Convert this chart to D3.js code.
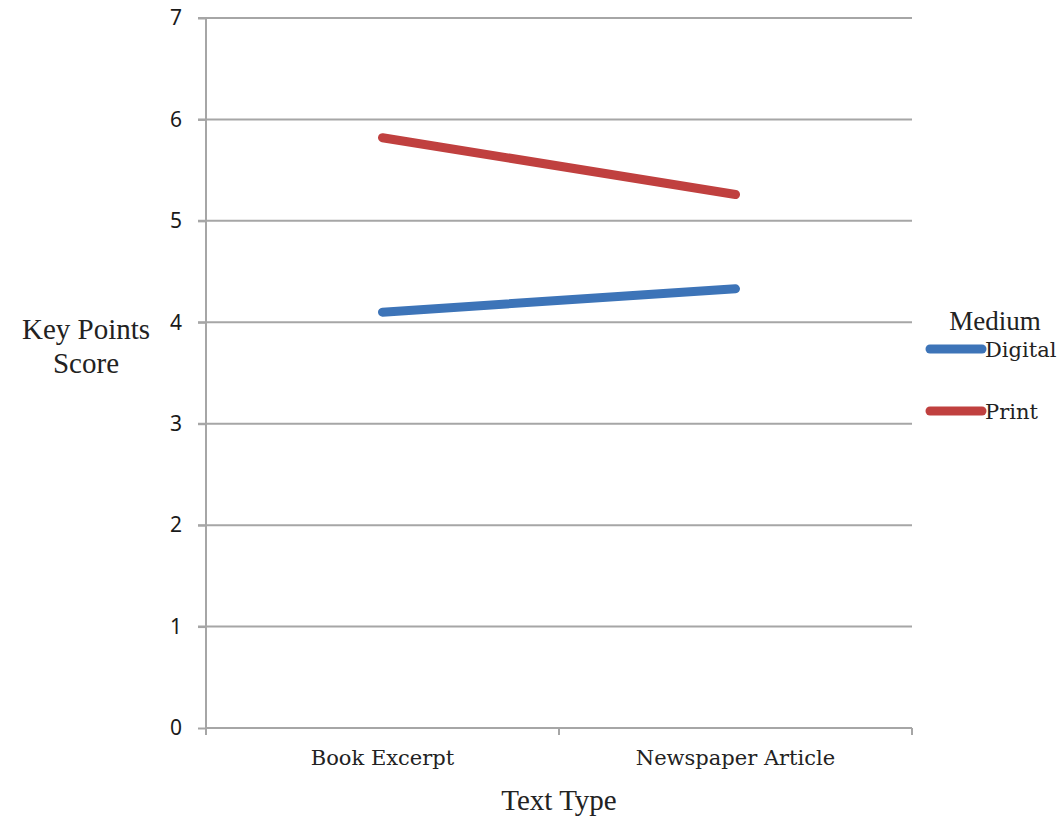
<!DOCTYPE html>
<html>
<head>
<meta charset="utf-8">
<script src="https://cdnjs.cloudflare.com/ajax/libs/d3/7.8.5/d3.min.js"></script>
<style>
  body { margin: 0; background: #fff; }
</style>
</head>
<body>
<script>
var categories = ["Book Excerpt", "Newspaper Article"];
var seriesNames = ["Digital", "Print"];
var digitalValues = [4.10, 4.33];
var printValues = [5.82, 5.26];
var yTicks = [0, 1, 2, 3, 4, 5, 6, 7];
var colors = ["#3d74b8", "#c0403f"];

var width = 1061, height = 820;
var plotLeft = 206, plotRight = 912, plotTop = 18, plotBottom = 728;

var svg = d3.select("body")
    .append("svg")
    .attr("width", width)
    .attr("height", height)
    .style("background", "#fff");

var x = d3.scaleBand().domain(categories).range([plotLeft, plotRight]);
var y = d3.scaleLinear().domain([0, 7]).range([plotBottom, plotTop]);

// grid lines
svg.selectAll(".grid")
    .data(yTicks.filter(function(d) { return d > 0; }))
    .enter()
    .append("line")
    .attr("class", "grid")
    .attr("x1", plotLeft - 8)
    .attr("x2", plotRight)
    .attr("y1", function(d) { return y(d); })
    .attr("y2", function(d) { return y(d); })
    .attr("stroke", "#a6a6a6")
    .attr("stroke-width", 2);

// y axis
var yAxis = svg.append("g")
    .attr("transform", "translate(" + plotLeft + ",0)")
    .call(d3.axisLeft(y).tickValues(yTicks).tickSize(8).tickPadding(16).tickFormat(d3.format("d")));
yAxis.selectAll("line, path").attr("stroke", "#a6a6a6").attr("stroke-width", 2);
yAxis.select(".domain").attr("d", "M0," + plotTop + "V" + plotBottom);
yAxis.selectAll("text")
    .attr("fill", "#1a1a1a")
    .style("font-family", "'Noto Sans', 'DejaVu Sans', sans-serif")
    .style("font-size", "21px");

// x axis
var xAxis = svg.append("g")
    .attr("transform", "translate(0," + plotBottom + ")")
    .call(d3.axisBottom(x).tickSize(0).tickPadding(22));
xAxis.select(".domain").attr("stroke", "#a6a6a6").attr("stroke-width", 2)
    .attr("d", "M" + plotLeft + ",0H" + plotRight);
xAxis.selectAll("text")
    .attr("fill", "#222")
    .style("font-family", "'DejaVu Serif', serif")
    .style("font-size", "21px");
var xEdges = [plotLeft].concat(categories.map(function(c) { return x(c) + x.bandwidth(); }));
xAxis.selectAll(".edge")
    .data(xEdges)
    .enter()
    .append("line")
    .attr("class", "edge")
    .attr("x1", function(d) { return d; })
    .attr("x2", function(d) { return d; })
    .attr("y1", 0)
    .attr("y2", 7)
    .attr("stroke", "#a6a6a6")
    .attr("stroke-width", 2);

// lines
var series = [
    { name: seriesNames[0], values: digitalValues, color: colors[0] },
    { name: seriesNames[1], values: printValues, color: colors[1] }
];
var line = d3.line()
    .x(function(d, i) { return x(categories[i]) + x.bandwidth() / 2; })
    .y(function(d) { return y(d); });

svg.selectAll(".series")
    .data(series)
    .enter()
    .append("path")
    .attr("class", "series")
    .attr("d", function(d) { return line(d.values); })
    .attr("fill", "none")
    .attr("stroke", function(d) { return d.color; })
    .attr("stroke-width", 9)
    .attr("stroke-linecap", "round");

// axis titles
var serif = "'Liberation Serif', 'Times New Roman', serif";
svg.append("text")
    .attr("text-anchor", "middle")
    .style("font-family", serif)
    .style("font-size", "29px")
    .attr("fill", "#222")
    .selectAll("tspan")
    .data(["Key Points", "Score"])
    .enter()
    .append("tspan")
    .attr("x", 86)
    .attr("y", function(d, i) { return 339 + i * 34; })
    .text(function(d) { return d; });

svg.append("text")
    .attr("x", (plotLeft + plotRight) / 2)
    .attr("y", 810)
    .attr("text-anchor", "middle")
    .style("font-family", serif)
    .style("font-size", "29px")
    .attr("fill", "#222")
    .text("Text Type");

// legend
svg.append("text")
    .attr("x", 995)
    .attr("y", 330)
    .attr("text-anchor", "middle")
    .style("font-family", serif)
    .style("font-size", "27px")
    .attr("fill", "#222")
    .text("Medium");

var legend = svg.selectAll(".legend")
    .data(series)
    .enter()
    .append("g")
    .attr("class", "legend")
    .attr("transform", function(d, i) { return "translate(0," + (349 + i * 62) + ")"; });
legend.append("line")
    .attr("x1", 930).attr("x2", 982)
    .attr("y1", 0).attr("y2", 0)
    .attr("stroke", function(d) { return d.color; })
    .attr("stroke-width", 9)
    .attr("stroke-linecap", "round");
legend.append("text")
    .attr("x", 985)
    .attr("y", 8)
    .style("font-family", "'DejaVu Serif', serif")
    .style("font-size", "21px")
    .attr("fill", "#222")
    .text(function(d) { return d.name; });
</script>
</body>
</html>
